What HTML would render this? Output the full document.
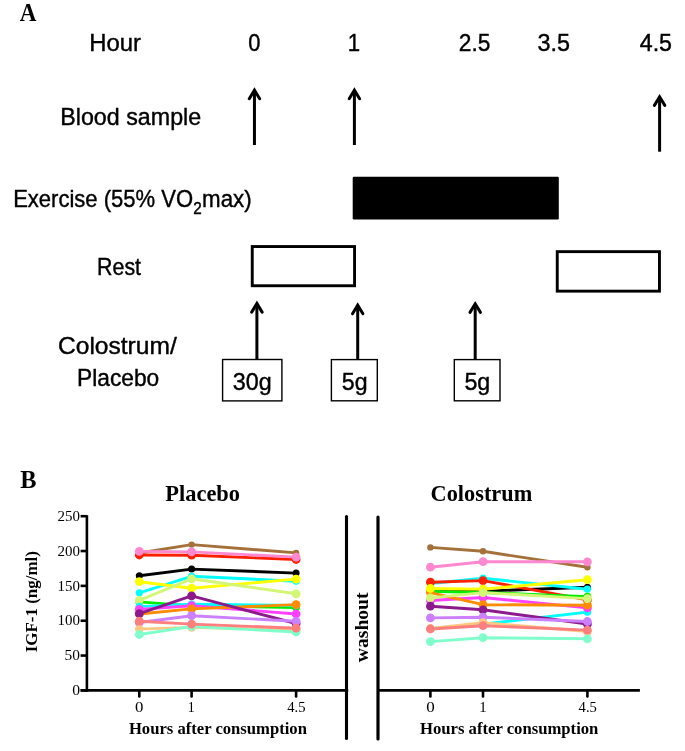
<!DOCTYPE html>
<html><head><meta charset="utf-8"><title>Figure</title>
<style>
html,body{margin:0;padding:0;background:#fff;}
body{width:685px;height:751px;overflow:hidden;font-family:"Liberation Sans", sans-serif;}
svg{display:block;}
</style></head>
<body>
<svg style="will-change:transform" width="685" height="751" viewBox="0 0 685 751">
<rect width="685" height="751" fill="#fff"/>
<text x="19.86" y="20.80" font-size="25.80" font-family="'Liberation Serif', serif" font-weight="bold" textLength="16.73" lengthAdjust="spacingAndGlyphs">A</text>
<text x="89.21" y="50.90" font-size="23.70" font-family="'Liberation Sans', sans-serif" font-weight="normal" textLength="51.73" lengthAdjust="spacingAndGlyphs" stroke="#000" stroke-width="0.4">Hour</text>
<text x="248.20" y="50.90" font-size="23.70" font-family="'Liberation Sans', sans-serif" font-weight="normal" textLength="12.18" lengthAdjust="spacingAndGlyphs" stroke="#000" stroke-width="0.4">0</text>
<text x="347.78" y="50.90" font-size="23.70" font-family="'Liberation Sans', sans-serif" font-weight="normal" textLength="12.37" lengthAdjust="spacingAndGlyphs" stroke="#000" stroke-width="0.4">1</text>
<text x="458.75" y="50.90" font-size="23.70" font-family="'Liberation Sans', sans-serif" font-weight="normal" textLength="31.61" lengthAdjust="spacingAndGlyphs" stroke="#000" stroke-width="0.4">2.5</text>
<text x="537.60" y="50.90" font-size="23.70" font-family="'Liberation Sans', sans-serif" font-weight="normal" textLength="32.56" lengthAdjust="spacingAndGlyphs" stroke="#000" stroke-width="0.4">3.5</text>
<text x="639.72" y="50.90" font-size="23.70" font-family="'Liberation Sans', sans-serif" font-weight="normal" textLength="32.31" lengthAdjust="spacingAndGlyphs" stroke="#000" stroke-width="0.4">4.5</text>
<text x="60.25" y="124.80" font-size="23.70" font-family="'Liberation Sans', sans-serif" font-weight="normal" textLength="140.92" lengthAdjust="spacingAndGlyphs" stroke="#000" stroke-width="0.4">Blood sample</text>
<text x="13.13" y="207.10" font-size="23.70" font-family="'Liberation Sans', sans-serif" font-weight="normal" textLength="179.89" lengthAdjust="spacingAndGlyphs" stroke="#000" stroke-width="0.4">Exercise (55% VO</text>
<text x="193.20" y="213.90" font-size="16.80" font-family="'Liberation Sans', sans-serif" font-weight="normal" textLength="8.50" lengthAdjust="spacingAndGlyphs" stroke="#000" stroke-width="0.4">2</text>
<text x="202.07" y="207.10" font-size="23.70" font-family="'Liberation Sans', sans-serif" font-weight="normal" textLength="49.59" lengthAdjust="spacingAndGlyphs" stroke="#000" stroke-width="0.4">max)</text>
<text x="97.08" y="275.30" font-size="23.70" font-family="'Liberation Sans', sans-serif" font-weight="normal" textLength="43.92" lengthAdjust="spacingAndGlyphs" stroke="#000" stroke-width="0.4">Rest</text>
<text x="57.99" y="354.20" font-size="23.70" font-family="'Liberation Sans', sans-serif" font-weight="normal" textLength="118.74" lengthAdjust="spacingAndGlyphs" stroke="#000" stroke-width="0.4">Colostrum/</text>
<text x="77.09" y="385.60" font-size="23.70" font-family="'Liberation Sans', sans-serif" font-weight="normal" textLength="82.20" lengthAdjust="spacingAndGlyphs" stroke="#000" stroke-width="0.4">Placebo</text>
<text x="232.87" y="390.40" font-size="23.70" font-family="'Liberation Sans', sans-serif" font-weight="normal" textLength="38.90" lengthAdjust="spacingAndGlyphs" stroke="#000" stroke-width="0.4">30g</text>
<text x="341.86" y="390.40" font-size="23.70" font-family="'Liberation Sans', sans-serif" font-weight="normal" textLength="25.75" lengthAdjust="spacingAndGlyphs" stroke="#000" stroke-width="0.4">5g</text>
<text x="464.39" y="390.40" font-size="23.70" font-family="'Liberation Sans', sans-serif" font-weight="normal" textLength="25.87" lengthAdjust="spacingAndGlyphs" stroke="#000" stroke-width="0.4">5g</text>
<text x="20.32" y="487.90" font-size="25.80" font-family="'Liberation Serif', serif" font-weight="bold" textLength="16.28" lengthAdjust="spacingAndGlyphs">B</text>
<text x="165.36" y="500.70" font-size="23.70" font-family="'Liberation Serif', serif" font-weight="bold" textLength="74.69" lengthAdjust="spacingAndGlyphs">Placebo</text>
<text x="430.62" y="500.70" font-size="23.70" font-family="'Liberation Serif', serif" font-weight="bold" textLength="101.61" lengthAdjust="spacingAndGlyphs">Colostrum</text>
<text x="72.30" y="695.15" font-size="15.00" font-family="'Liberation Serif', serif" font-weight="normal" textLength="7.82" lengthAdjust="spacingAndGlyphs">0</text>
<text x="64.61" y="660.31" font-size="15.00" font-family="'Liberation Serif', serif" font-weight="normal" textLength="15.43" lengthAdjust="spacingAndGlyphs">50</text>
<text x="57.51" y="625.47" font-size="15.00" font-family="'Liberation Serif', serif" font-weight="normal" textLength="22.52" lengthAdjust="spacingAndGlyphs">100</text>
<text x="57.52" y="590.63" font-size="15.00" font-family="'Liberation Serif', serif" font-weight="normal" textLength="22.42" lengthAdjust="spacingAndGlyphs">150</text>
<text x="57.56" y="555.79" font-size="15.00" font-family="'Liberation Serif', serif" font-weight="normal" textLength="22.46" lengthAdjust="spacingAndGlyphs">200</text>
<text x="57.56" y="520.95" font-size="15.00" font-family="'Liberation Serif', serif" font-weight="normal" textLength="22.46" lengthAdjust="spacingAndGlyphs">250</text>
<text x="135.06" y="711.50" font-size="14.80" font-family="'Liberation Serif', serif" font-weight="normal" textLength="8.42" lengthAdjust="spacingAndGlyphs">0</text>
<text x="187.76" y="711.50" font-size="14.80" font-family="'Liberation Serif', serif" font-weight="normal" textLength="6.97" lengthAdjust="spacingAndGlyphs">1</text>
<text x="287.19" y="711.50" font-size="14.80" font-family="'Liberation Serif', serif" font-weight="normal" textLength="18.31" lengthAdjust="spacingAndGlyphs">4.5</text>
<text x="426.15" y="711.50" font-size="14.80" font-family="'Liberation Serif', serif" font-weight="normal" textLength="8.52" lengthAdjust="spacingAndGlyphs">0</text>
<text x="479.26" y="711.50" font-size="14.80" font-family="'Liberation Serif', serif" font-weight="normal" textLength="7.42" lengthAdjust="spacingAndGlyphs">1</text>
<text x="578.60" y="711.50" font-size="14.80" font-family="'Liberation Serif', serif" font-weight="normal" textLength="18.22" lengthAdjust="spacingAndGlyphs">4.5</text>
<text x="128.88" y="733.80" font-size="17.50" font-family="'Liberation Serif', serif" font-weight="bold" textLength="178.04" lengthAdjust="spacingAndGlyphs">Hours after consumption</text>
<text x="419.93" y="733.80" font-size="17.50" font-family="'Liberation Serif', serif" font-weight="bold" textLength="178.48" lengthAdjust="spacingAndGlyphs">Hours after consumption</text>
<text transform="translate(37.20 652.30) rotate(-90)" font-size="17.60" font-family="'Liberation Serif', serif" font-weight="bold" textLength="101.22" lengthAdjust="spacingAndGlyphs">IGF-1 (ng/ml)</text>
<text transform="translate(368.40 662.17) rotate(-90)" font-size="19.80" font-family="'Liberation Serif', serif" font-weight="bold" textLength="69.69" lengthAdjust="spacingAndGlyphs">washout</text>
<line x1="254.45" y1="145" x2="254.45" y2="91.09900258301565" stroke="#000" stroke-width="3.0"/>
<path d="M249.25 98.70 L254.45 90.10 L259.65 98.70" fill="none" stroke="#000" stroke-width="3.0" stroke-linecap="round" stroke-linejoin="miter" stroke-miterlimit="10"/>
<line x1="354.4" y1="145" x2="354.4" y2="91.09900258301565" stroke="#000" stroke-width="3.0"/>
<path d="M349.20 98.70 L354.40 90.10 L359.60 98.70" fill="none" stroke="#000" stroke-width="3.0" stroke-linecap="round" stroke-linejoin="miter" stroke-miterlimit="10"/>
<line x1="659.6" y1="151.7" x2="659.6" y2="97.79900258301565" stroke="#000" stroke-width="3.0"/>
<path d="M654.40 105.40 L659.60 96.80 L664.80 105.40" fill="none" stroke="#000" stroke-width="3.0" stroke-linecap="round" stroke-linejoin="miter" stroke-miterlimit="10"/>
<rect x="352.7" y="176.8" width="206.1" height="42.7" rx="1.2" fill="#000"/>
<rect x="252.25" y="246.55" width="102.30" height="39.20" fill="none" stroke="#000" stroke-width="2.9" rx="0"/>
<rect x="557.25" y="251.65" width="102.20" height="39.50" fill="none" stroke="#000" stroke-width="2.9" rx="0"/>
<line x1="256.9" y1="359" x2="256.9" y2="304.4990025830157" stroke="#000" stroke-width="3.0"/>
<path d="M251.70 312.10 L256.90 303.50 L262.10 312.10" fill="none" stroke="#000" stroke-width="3.0" stroke-linecap="round" stroke-linejoin="miter" stroke-miterlimit="10"/>
<line x1="357.7" y1="359.5" x2="357.7" y2="306.19900258301567" stroke="#000" stroke-width="3.0"/>
<path d="M352.50 313.80 L357.70 305.20 L362.90 313.80" fill="none" stroke="#000" stroke-width="3.0" stroke-linecap="round" stroke-linejoin="miter" stroke-miterlimit="10"/>
<line x1="475.2" y1="359" x2="475.2" y2="304.79900258301564" stroke="#000" stroke-width="3.0"/>
<path d="M470.00 312.40 L475.20 303.80 L480.40 312.40" fill="none" stroke="#000" stroke-width="3.0" stroke-linecap="round" stroke-linejoin="miter" stroke-miterlimit="10"/>
<rect x="222.60" y="359.50" width="59.30" height="41.40" fill="none" stroke="#000" stroke-width="1.4" rx="0"/>
<rect x="331.40" y="359.60" width="45.90" height="41.20" fill="none" stroke="#000" stroke-width="1.4" rx="0"/>
<rect x="454.30" y="359.60" width="45.70" height="41.20" fill="none" stroke="#000" stroke-width="1.4" rx="0"/>
<line x1="86.9" y1="515.2" x2="86.9" y2="691.6999999999999" stroke="#000" stroke-width="2.6"/>
<line x1="80.6" y1="690.4" x2="348.2" y2="690.4" stroke="#000" stroke-width="2.6"/>
<line x1="80.6" y1="690.40" x2="86.9" y2="690.40" stroke="#000" stroke-width="2.6"/>
<line x1="80.6" y1="655.56" x2="86.9" y2="655.56" stroke="#000" stroke-width="2.6"/>
<line x1="80.6" y1="620.72" x2="86.9" y2="620.72" stroke="#000" stroke-width="2.6"/>
<line x1="80.6" y1="585.88" x2="86.9" y2="585.88" stroke="#000" stroke-width="2.6"/>
<line x1="80.6" y1="551.04" x2="86.9" y2="551.04" stroke="#000" stroke-width="2.6"/>
<line x1="80.6" y1="516.20" x2="86.9" y2="516.20" stroke="#000" stroke-width="2.6"/>
<line x1="139.3" y1="690.4" x2="139.3" y2="696.5" stroke="#000" stroke-width="2.6" stroke-linecap="round"/>
<line x1="191.6" y1="690.4" x2="191.6" y2="696.5" stroke="#000" stroke-width="2.6" stroke-linecap="round"/>
<line x1="296.1" y1="690.4" x2="296.1" y2="696.5" stroke="#000" stroke-width="2.6" stroke-linecap="round"/>
<line x1="430.4" y1="690.4" x2="430.4" y2="696.5" stroke="#000" stroke-width="2.6" stroke-linecap="round"/>
<line x1="483.0" y1="690.4" x2="483.0" y2="696.5" stroke="#000" stroke-width="2.6" stroke-linecap="round"/>
<line x1="587.4" y1="690.4" x2="587.4" y2="696.5" stroke="#000" stroke-width="2.6" stroke-linecap="round"/>
<line x1="346.5" y1="516.5" x2="346.5" y2="738.5" stroke="#000" stroke-width="3.1" stroke-linecap="round"/>
<line x1="378.0" y1="517.0" x2="378.0" y2="739" stroke="#000" stroke-width="3.2" stroke-linecap="round"/>
<line x1="378" y1="690.4" x2="639.9" y2="690.4" stroke="#000" stroke-width="2.6"/>
<polyline points="139.3,553.0 191.6,544.6 296.1,552.9" fill="none" stroke="#a5713a" stroke-width="2.9" stroke-linejoin="round"/>
<circle cx="139.3" cy="553.0" r="3.2" fill="#a5713a"/>
<circle cx="191.6" cy="544.6" r="3.2" fill="#a5713a"/>
<circle cx="296.1" cy="552.9" r="3.2" fill="#a5713a"/>
<polyline points="139.3,555.0 191.6,555.2 296.1,559.5" fill="none" stroke="#ff2000" stroke-width="2.9" stroke-linejoin="round"/>
<circle cx="139.3" cy="555.0" r="4.4" fill="#ff2000"/>
<circle cx="191.6" cy="555.2" r="4.4" fill="#ff2000"/>
<circle cx="296.1" cy="559.5" r="4.4" fill="#ff2000"/>
<polyline points="139.3,551.4 191.6,551.9 296.1,557.1" fill="none" stroke="#ff88d0" stroke-width="2.9" stroke-linejoin="round"/>
<circle cx="139.3" cy="551.4" r="4.4" fill="#ff88d0"/>
<circle cx="191.6" cy="551.9" r="4.4" fill="#ff88d0"/>
<circle cx="296.1" cy="557.1" r="4.4" fill="#ff88d0"/>
<polyline points="139.3,575.7 191.6,569.1 296.1,573.1" fill="none" stroke="#000000" stroke-width="2.9" stroke-linejoin="round"/>
<circle cx="139.3" cy="575.7" r="3.5" fill="#000000"/>
<circle cx="191.6" cy="569.1" r="3.5" fill="#000000"/>
<circle cx="296.1" cy="573.1" r="3.5" fill="#000000"/>
<polyline points="139.3,592.8 191.6,576.3 296.1,581.2" fill="none" stroke="#00ffff" stroke-width="2.9" stroke-linejoin="round"/>
<circle cx="139.3" cy="592.8" r="3.6" fill="#00ffff"/>
<circle cx="191.6" cy="576.3" r="3.6" fill="#00ffff"/>
<circle cx="296.1" cy="581.2" r="3.6" fill="#00ffff"/>
<polyline points="139.3,581.7 191.6,588.2 296.1,579.1" fill="none" stroke="#ffff00" stroke-width="2.9" stroke-linejoin="round"/>
<circle cx="139.3" cy="581.7" r="4.4" fill="#ffff00"/>
<circle cx="191.6" cy="588.2" r="4.4" fill="#ffff00"/>
<circle cx="296.1" cy="579.1" r="4.4" fill="#ffff00"/>
<polyline points="139.3,601.9 191.6,605.9 296.1,607.5" fill="none" stroke="#00ee00" stroke-width="2.9" stroke-linejoin="round"/>
<circle cx="139.3" cy="601.9" r="3.8" fill="#00ee00"/>
<circle cx="191.6" cy="605.9" r="3.8" fill="#00ee00"/>
<circle cx="296.1" cy="607.5" r="3.8" fill="#00ee00"/>
<polyline points="139.3,600.3 191.6,578.8 296.1,593.8" fill="none" stroke="#d4f676" stroke-width="2.9" stroke-linejoin="round"/>
<circle cx="139.3" cy="600.3" r="4.4" fill="#d4f676"/>
<circle cx="191.6" cy="578.8" r="4.4" fill="#d4f676"/>
<circle cx="296.1" cy="593.8" r="4.4" fill="#d4f676"/>
<polyline points="139.3,606.6 191.6,604.3 296.1,605.5" fill="none" stroke="#00ffff" stroke-width="2.9" stroke-linejoin="round"/>
<circle cx="139.3" cy="606.6" r="3.8" fill="#00ffff"/>
<circle cx="191.6" cy="604.3" r="3.8" fill="#00ffff"/>
<circle cx="296.1" cy="605.5" r="3.8" fill="#00ffff"/>
<polyline points="139.3,609.4 191.6,605.7 296.1,614.0" fill="none" stroke="#ff40ff" stroke-width="2.9" stroke-linejoin="round"/>
<circle cx="139.3" cy="609.4" r="4.4" fill="#ff40ff"/>
<circle cx="191.6" cy="605.7" r="4.4" fill="#ff40ff"/>
<circle cx="296.1" cy="614.0" r="4.4" fill="#ff40ff"/>
<polyline points="139.3,614.0 191.6,608.9 296.1,604.6" fill="none" stroke="#ff8c00" stroke-width="2.9" stroke-linejoin="round"/>
<circle cx="139.3" cy="614.0" r="4.4" fill="#ff8c00"/>
<circle cx="191.6" cy="608.9" r="4.4" fill="#ff8c00"/>
<circle cx="296.1" cy="604.6" r="4.4" fill="#ff8c00"/>
<polyline points="139.3,613.6 191.6,595.9 296.1,623.5" fill="none" stroke="#8c1a8c" stroke-width="2.9" stroke-linejoin="round"/>
<circle cx="139.3" cy="613.6" r="4.4" fill="#8c1a8c"/>
<circle cx="191.6" cy="595.9" r="4.4" fill="#8c1a8c"/>
<circle cx="296.1" cy="623.5" r="4.4" fill="#8c1a8c"/>
<polyline points="139.3,622.5 191.6,615.7 296.1,621.3" fill="none" stroke="#cc80ff" stroke-width="2.9" stroke-linejoin="round"/>
<circle cx="139.3" cy="622.5" r="4.4" fill="#cc80ff"/>
<circle cx="191.6" cy="615.7" r="4.4" fill="#cc80ff"/>
<circle cx="296.1" cy="621.3" r="4.4" fill="#cc80ff"/>
<polyline points="139.3,629.1 191.6,627.4 296.1,630.0" fill="none" stroke="#ffc880" stroke-width="2.9" stroke-linejoin="round"/>
<circle cx="139.3" cy="629.1" r="4.4" fill="#ffc880"/>
<circle cx="191.6" cy="627.4" r="4.4" fill="#ffc880"/>
<circle cx="296.1" cy="630.0" r="4.4" fill="#ffc880"/>
<polyline points="139.3,634.5 191.6,626.5 296.1,632.0" fill="none" stroke="#80ffcc" stroke-width="2.9" stroke-linejoin="round"/>
<circle cx="139.3" cy="634.5" r="4.4" fill="#80ffcc"/>
<circle cx="191.6" cy="626.5" r="4.4" fill="#80ffcc"/>
<circle cx="296.1" cy="632.0" r="4.4" fill="#80ffcc"/>
<polyline points="139.3,621.2 191.6,624.1 296.1,628.2" fill="none" stroke="#ff7f7f" stroke-width="2.9" stroke-linejoin="round"/>
<circle cx="139.3" cy="621.2" r="4.4" fill="#ff7f7f"/>
<circle cx="191.6" cy="624.1" r="4.4" fill="#ff7f7f"/>
<circle cx="296.1" cy="628.2" r="4.4" fill="#ff7f7f"/>
<polyline points="430.4,547.4 483.0,551.3 587.4,567.3" fill="none" stroke="#a5713a" stroke-width="2.9" stroke-linejoin="round"/>
<circle cx="430.4" cy="547.4" r="3.2" fill="#a5713a"/>
<circle cx="483.0" cy="551.3" r="3.2" fill="#a5713a"/>
<circle cx="587.4" cy="567.3" r="3.2" fill="#a5713a"/>
<polyline points="430.4,567.2 483.0,561.7 587.4,561.8" fill="none" stroke="#ff88d0" stroke-width="2.9" stroke-linejoin="round"/>
<circle cx="430.4" cy="567.2" r="4.4" fill="#ff88d0"/>
<circle cx="483.0" cy="561.7" r="4.4" fill="#ff88d0"/>
<circle cx="587.4" cy="561.8" r="4.4" fill="#ff88d0"/>
<polyline points="430.4,590.5 483.0,591.2 587.4,587.2" fill="none" stroke="#000000" stroke-width="2.9" stroke-linejoin="round"/>
<circle cx="430.4" cy="590.5" r="3.5" fill="#000000"/>
<circle cx="483.0" cy="591.2" r="3.5" fill="#000000"/>
<circle cx="587.4" cy="587.2" r="3.5" fill="#000000"/>
<polyline points="430.4,583.5 483.0,578.2 587.4,589.2" fill="none" stroke="#00ffff" stroke-width="2.9" stroke-linejoin="round"/>
<circle cx="430.4" cy="583.5" r="3.6" fill="#00ffff"/>
<circle cx="483.0" cy="578.2" r="3.6" fill="#00ffff"/>
<circle cx="587.4" cy="589.2" r="3.6" fill="#00ffff"/>
<polyline points="430.4,582.2 483.0,580.6 587.4,599.9" fill="none" stroke="#ff2000" stroke-width="2.9" stroke-linejoin="round"/>
<circle cx="430.4" cy="582.2" r="4.4" fill="#ff2000"/>
<circle cx="483.0" cy="580.6" r="4.4" fill="#ff2000"/>
<circle cx="587.4" cy="599.9" r="4.4" fill="#ff2000"/>
<polyline points="430.4,591.4 483.0,592.5 587.4,596.6" fill="none" stroke="#00ee00" stroke-width="2.9" stroke-linejoin="round"/>
<circle cx="430.4" cy="591.4" r="3.8" fill="#00ee00"/>
<circle cx="483.0" cy="592.5" r="3.8" fill="#00ee00"/>
<circle cx="587.4" cy="596.6" r="3.8" fill="#00ee00"/>
<polyline points="430.4,628.5 483.0,624.1 587.4,612.1" fill="none" stroke="#00ffff" stroke-width="2.9" stroke-linejoin="round"/>
<circle cx="430.4" cy="628.5" r="3.8" fill="#00ffff"/>
<circle cx="483.0" cy="624.1" r="3.8" fill="#00ffff"/>
<circle cx="587.4" cy="612.1" r="3.8" fill="#00ffff"/>
<polyline points="430.4,600.5 483.0,597.5 587.4,607.9" fill="none" stroke="#ff40ff" stroke-width="2.9" stroke-linejoin="round"/>
<circle cx="430.4" cy="600.5" r="4.4" fill="#ff40ff"/>
<circle cx="483.0" cy="597.5" r="4.4" fill="#ff40ff"/>
<circle cx="587.4" cy="607.9" r="4.4" fill="#ff40ff"/>
<polyline points="430.4,592.6 483.0,604.7 587.4,605.2" fill="none" stroke="#ff8c00" stroke-width="2.9" stroke-linejoin="round"/>
<circle cx="430.4" cy="592.6" r="4.4" fill="#ff8c00"/>
<circle cx="483.0" cy="604.7" r="4.4" fill="#ff8c00"/>
<circle cx="587.4" cy="605.2" r="4.4" fill="#ff8c00"/>
<polyline points="430.4,588.5 483.0,589.2 587.4,579.7" fill="none" stroke="#ffff00" stroke-width="2.9" stroke-linejoin="round"/>
<circle cx="430.4" cy="588.5" r="4.4" fill="#ffff00"/>
<circle cx="483.0" cy="589.2" r="4.4" fill="#ffff00"/>
<circle cx="587.4" cy="579.7" r="4.4" fill="#ffff00"/>
<polyline points="430.4,597.9 483.0,592.6 587.4,598.6" fill="none" stroke="#d4f676" stroke-width="2.9" stroke-linejoin="round"/>
<circle cx="430.4" cy="597.9" r="4.4" fill="#d4f676"/>
<circle cx="483.0" cy="592.6" r="4.4" fill="#d4f676"/>
<circle cx="587.4" cy="598.6" r="4.4" fill="#d4f676"/>
<polyline points="430.4,606.2 483.0,609.8 587.4,624.0" fill="none" stroke="#8c1a8c" stroke-width="2.9" stroke-linejoin="round"/>
<circle cx="430.4" cy="606.2" r="4.4" fill="#8c1a8c"/>
<circle cx="483.0" cy="609.8" r="4.4" fill="#8c1a8c"/>
<circle cx="587.4" cy="624.0" r="4.4" fill="#8c1a8c"/>
<polyline points="430.4,617.9 483.0,617.2 587.4,621.5" fill="none" stroke="#cc80ff" stroke-width="2.9" stroke-linejoin="round"/>
<circle cx="430.4" cy="617.9" r="4.4" fill="#cc80ff"/>
<circle cx="483.0" cy="617.2" r="4.4" fill="#cc80ff"/>
<circle cx="587.4" cy="621.5" r="4.4" fill="#cc80ff"/>
<polyline points="430.4,628.5 483.0,622.6 587.4,631.5" fill="none" stroke="#ffc880" stroke-width="2.9" stroke-linejoin="round"/>
<circle cx="430.4" cy="628.5" r="4.4" fill="#ffc880"/>
<circle cx="483.0" cy="622.6" r="4.4" fill="#ffc880"/>
<circle cx="587.4" cy="631.5" r="4.4" fill="#ffc880"/>
<polyline points="430.4,629.0 483.0,625.7 587.4,630.1" fill="none" stroke="#ff7f7f" stroke-width="2.9" stroke-linejoin="round"/>
<circle cx="430.4" cy="629.0" r="4.4" fill="#ff7f7f"/>
<circle cx="483.0" cy="625.7" r="4.4" fill="#ff7f7f"/>
<circle cx="587.4" cy="630.1" r="4.4" fill="#ff7f7f"/>
<polyline points="430.4,641.6 483.0,637.7 587.4,638.8" fill="none" stroke="#80ffcc" stroke-width="2.9" stroke-linejoin="round"/>
<circle cx="430.4" cy="641.6" r="4.4" fill="#80ffcc"/>
<circle cx="483.0" cy="637.7" r="4.4" fill="#80ffcc"/>
<circle cx="587.4" cy="638.8" r="4.4" fill="#80ffcc"/>
</svg>
</body></html>
